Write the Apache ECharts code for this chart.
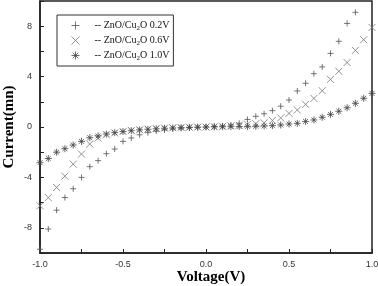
<!DOCTYPE html>
<html>
<head>
<meta charset="utf-8">
<script src="https://cdn.jsdelivr.net/npm/echarts@6/dist/echarts.min.js"></script>
<style>
  html, body { margin: 0; padding: 0; background: #fff; }
  #chart { width: 378px; height: 286px; }
</style>
</head>
<body>
<div id="chart"></div>
<script>
// voltage steps (V)
const voltage = [-1.0, -0.95, -0.9, -0.85, -0.8, -0.75, -0.7, -0.65, -0.6, -0.55,
  -0.5, -0.45, -0.4, -0.35, -0.3, -0.25, -0.2, -0.15, -0.1, -0.05,
  0.0, 0.05, 0.1, 0.15, 0.2, 0.25, 0.3, 0.35, 0.4, 0.45,
  0.5, 0.55, 0.6, 0.65, 0.7, 0.75, 0.8, 0.85, 0.9, 0.95, 1.0]

// current readings (mn), one per voltage step
const current02 = [-9.7, -8.1, -6.6, -5.6, -4.9, -4.0, -3.15, -2.67, -2.12, -1.75,
  -1.14, -0.87, -0.62, -0.45, -0.33, -0.24, -0.16, -0.1, -0.06, -0.03,
  0.0, 0.04, 0.09, 0.16, 0.3, 0.6, 0.85, 1.05, 1.3, 1.65,
  2.14, 2.86, 3.47, 4.23, 4.77, 5.84, 6.8, 8.22, 9.1]
const current06 = [-6.25, -5.6, -4.8, -3.9, -2.95, -2.15, -1.35, -0.88, -0.62, -0.47,
  -0.36, -0.28, -0.22, -0.17, -0.12, -0.09, -0.06, -0.04, -0.02, -0.01,
  0.0, 0.02, 0.05, 0.09, 0.14, 0.22, 0.26, 0.33, 0.52, 0.72,
  1.08, 1.35, 1.8, 2.27, 2.88, 3.78, 4.42, 5.12, 6.08, 6.93, 7.9]
const current10 = [-2.83, -2.5, -2.0, -1.72, -1.43, -1.14, -0.85, -0.71, -0.56, -0.45,
  -0.36, -0.29, -0.23, -0.18, -0.14, -0.1, -0.07, -0.05, -0.03, -0.01,
  0.0, 0.01, 0.02, 0.03, 0.04, 0.05, 0.06, 0.08, 0.11, 0.16,
  0.24, 0.29, 0.44, 0.56, 0.77, 1.0, 1.25, 1.53, 1.88, 2.28, 2.67]

const seriesNames = ['0.2V', '0.6V', '1.0V']
const seriesColors = ['#555', '#777', '#444']

const plusPath = 'path://M5,0 L5,10 M0,5 L10,5'
const crossPath = 'path://M0,0 L10,10 M10,0 L0,10'
const starPath = 'path://M5,0 L5,10 M0,5 L10,5 M1.5,1.5 L8.5,8.5 M8.5,1.5 L1.5,8.5'
const symbols = [plusPath, crossPath, starPath]

function pairs(values) {
  return values.map((v, i) => [voltage[i], v])
}

const chart = echarts.init(document.getElementById('chart'))

function markSeries(i, values, size) {
  return {
    name: seriesNames[i],
    type: 'scatter',
    data: pairs(values),
    symbol: symbols[i],
    symbolSize: size,
    itemStyle: { color: 'none', borderColor: seriesColors[i], borderWidth: 1 },
    emphasis: { disabled: true }
  }
}

chart.setOption({
  animation: false,
  grid: {
    left: 40, right: 6, top: 1, bottom: 33,
    outerBoundsMode: 'none', containLabel: false,
    show: true, borderColor: '#222', borderWidth: 1.5
  },
  legend: {
    left: 57, top: 15,
    orient: 'vertical',
    itemWidth: 8, itemHeight: 8, itemGap: 2,
    padding: [4, 4, 4, 12],
    borderColor: '#333', borderWidth: 1,
    data: seriesNames.map((n, i) => ({
      name: n,
      icon: symbols[i],
      itemStyle: { color: 'none', borderColor: seriesColors[i], borderWidth: 1 }
    })),
    formatter: n => '-- ZnO/Cu{sub|2}O ' + n,
    textStyle: {
      fontFamily: 'Liberation Serif', fontSize: 10, color: '#111',
      lineHeight: 12, padding: [0, 0, 0, 10],
      rich: { sub: { fontSize: 7, verticalAlign: 'bottom', lineHeight: 12, fontFamily: 'Liberation Serif', color: '#111' } }
    }
  },
  xAxis: {
    type: 'value', min: -1, max: 1, interval: 0.25,
    name: 'Voltage(V)', nameLocation: 'middle', nameGap: 17,
    nameMoveOverlap: false,
    nameTextStyle: {
      fontFamily: 'Liberation Serif', fontWeight: 'bold', fontSize: 15, color: '#000',
      padding: [0, 0, 0, 10]
    },
    axisLine: { onZero: false, lineStyle: { color: '#222', width: 1.5 } },
    axisTick: { inside: true, length: 4, lineStyle: { color: '#222' } },
    axisLabel: {
      fontFamily: 'Liberation Sans', fontSize: 9, color: '#333', margin: 7,
      formatter: v => (Math.abs(v * 2 - Math.round(v * 2)) < 1e-6 ? v.toFixed(1) : '')
    },
    splitLine: { show: false }
  },
  yAxis: {
    type: 'value', min: -10, max: 10, interval: 2,
    name: 'Current(mn)', nameLocation: 'middle', nameGap: 23,
    nameMoveOverlap: false,
    nameTextStyle: { fontFamily: 'Liberation Serif', fontWeight: 'bold', fontSize: 15, color: '#000' },
    axisLine: { onZero: false, lineStyle: { color: '#222', width: 1.5 } },
    axisTick: { inside: true, length: 4, lineStyle: { color: '#222' } },
    axisLabel: {
      fontFamily: 'Liberation Sans', fontSize: 9, color: '#333', margin: 8,
      formatter: v => (v % 4 === 0 ? String(v) : '')
    },
    splitLine: { show: false }
  },
  series: [
    markSeries(0, current02, 6),
    markSeries(1, current06, 7),
    markSeries(2, current10, 7)
  ]
})
</script>
</body>
</html>
